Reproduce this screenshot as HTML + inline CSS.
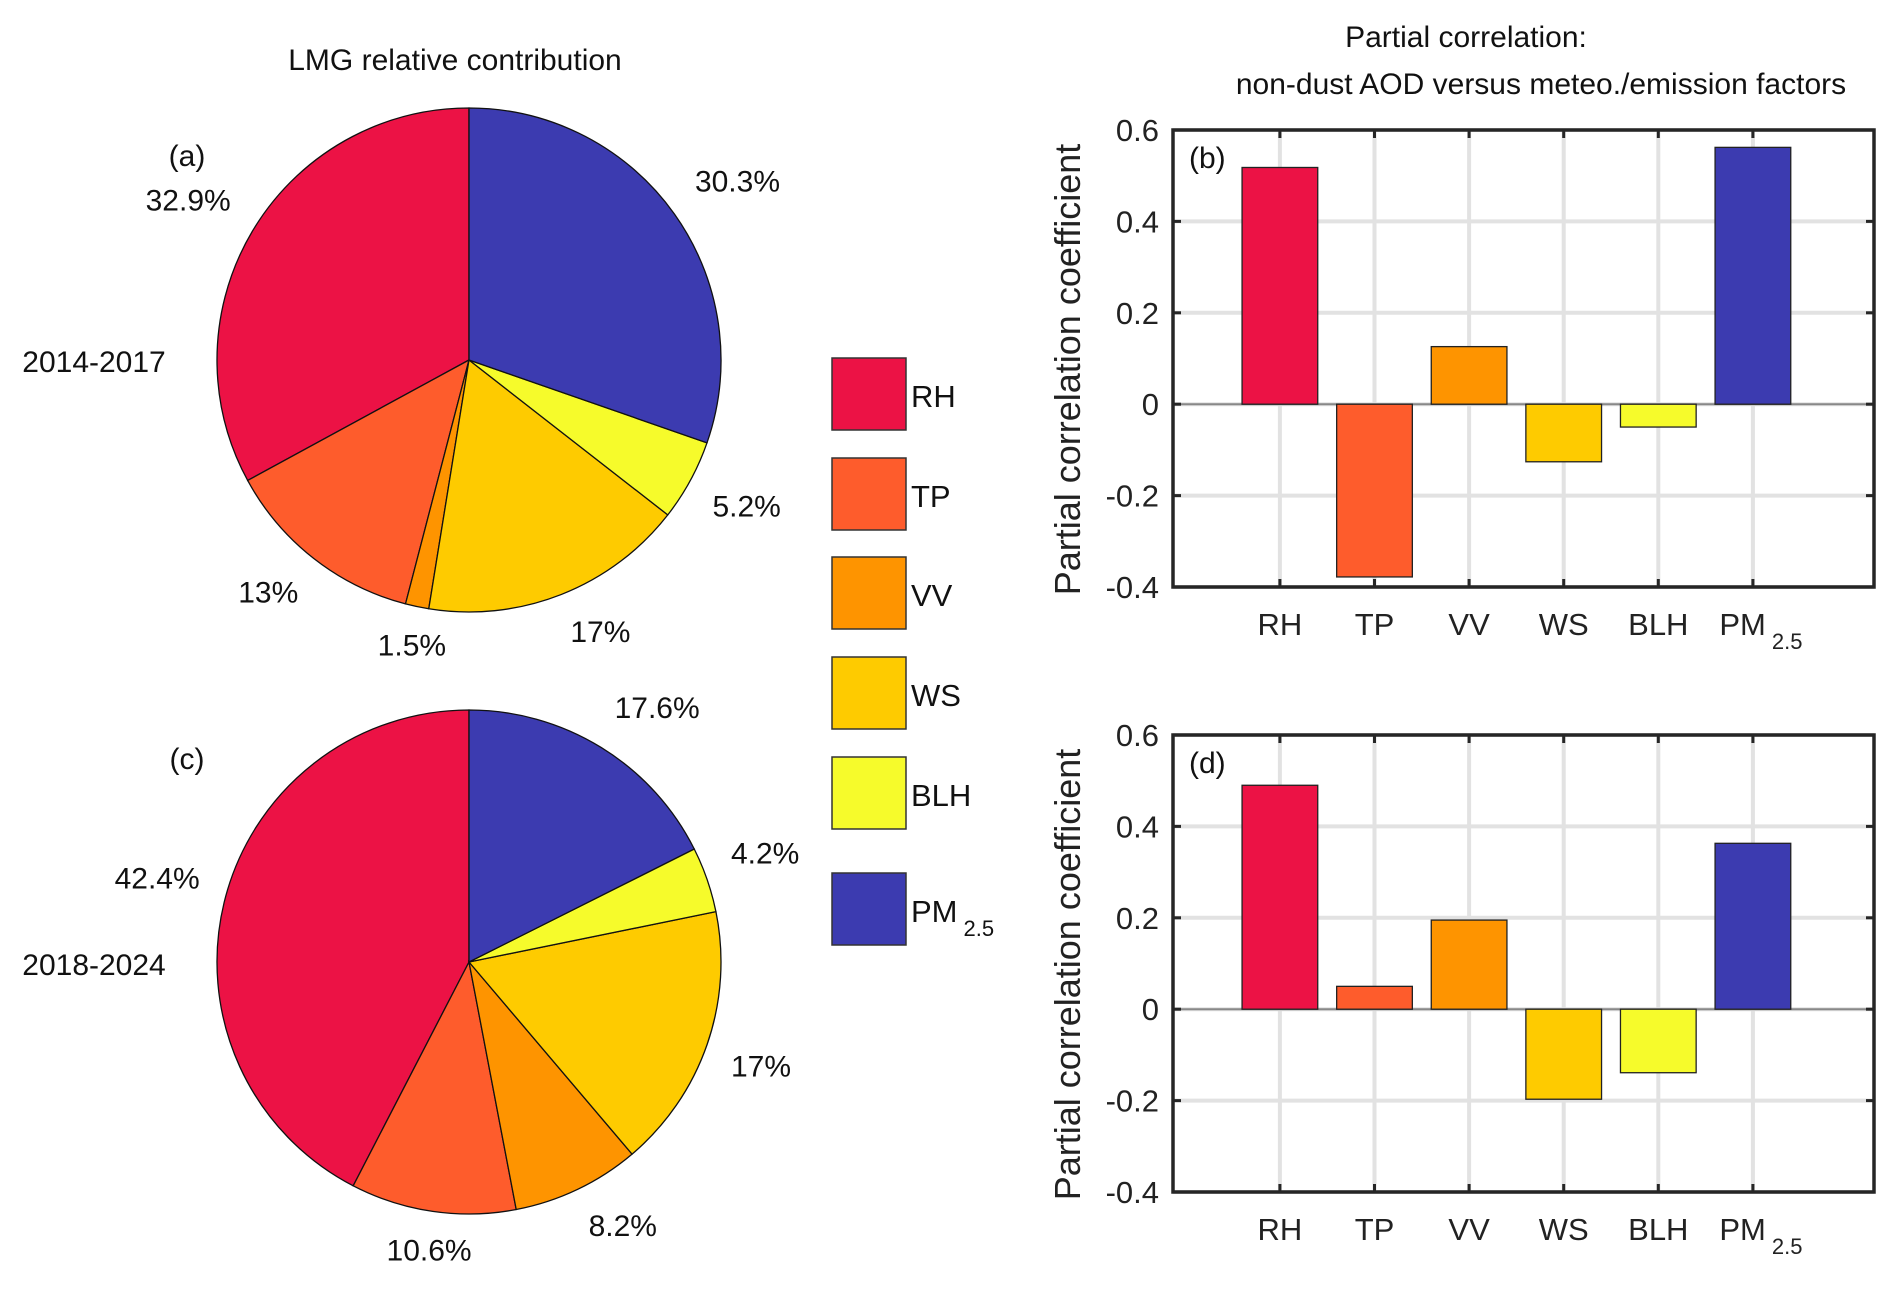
<!DOCTYPE html>
<html><head><meta charset="utf-8"><style>
body{margin:0;background:#fff;}
svg{display:block;font-family:"Liberation Sans",sans-serif;}
</style></head><body>
<svg id="fig" width="1892" height="1291" viewBox="0 0 1892 1291">
<text x="455" y="70" font-size="30" text-anchor="middle" fill="#111">LMG relative contribution</text>
<text x="1466" y="47" font-size="30" text-anchor="middle" fill="#111">Partial correlation:</text>
<text x="1541" y="94" font-size="30" text-anchor="middle" fill="#111">non-dust AOD versus meteo./emission factors</text>
<g id="pies"></g>
<g id="legend"></g>
<g id="bars"></g>
</svg>
<script>
const categories = ["RH","TP","VV","WS","BLH","PM"];
const colors = ["#ec1245","#fe5c2c","#fe9400","#fecb00","#f6fb2b","#3c3bb0"];
const pieA = [32.9, 13, 1.5, 17, 5.2, 30.3];
const pieC = [42.4, 10.6, 8.2, 17, 4.2, 17.6];
const pieALabels = ["32.9%","13%","1.5%","17%","5.2%","30.3%"];
const pieCLabels = ["42.4%","10.6%","8.2%","17%","4.2%","17.6%"];
const barsB = [0.518, -0.378, 0.126, -0.126, -0.05, 0.562];
const barsD = [0.49, 0.05, 0.195, -0.197, -0.139, 0.363];
const yTicks = [-0.4, -0.2, 0, 0.2, 0.4, 0.6];
const yTickLabels = ["-0.4","-0.2","0","0.2","0.4","0.6"];
const NS = "http://www.w3.org/2000/svg";
function mk(tag, attrs, parent){const e=document.createElementNS(NS,tag);for(const k in attrs)e.setAttribute(k,attrs[k]);parent.appendChild(e);return e;}

function drawPie(g, vals, labels, cx, cy, r, tag){
  const total = vals.reduce((a,b)=>a+b,0);
  let ang = Math.PI/2;
  vals.forEach((v,i)=>{
    const a0 = ang, a1 = ang + v/total*2*Math.PI;
    const x0=cx+r*Math.cos(a0), y0=cy-r*Math.sin(a0), x1=cx+r*Math.cos(a1), y1=cy-r*Math.sin(a1);
    const large = (a1-a0)>Math.PI?1:0;
    const p = mk('path',{d:`M${cx},${cy} L${x0},${y0} A${r},${r} 0 ${large} 0 ${x1},${y1} Z`,fill:colors[i],stroke:'#111','stroke-width':1.3},g);
    
    
    const am=(a0+a1)/2, lr=r*1.1;
    const lx=cx+lr*Math.cos(am), ly=cy-lr*Math.sin(am);
    const t = mk('text',{x:lx,y:ly+(Math.sin(am)>0?-8:24),'font-size':30,fill:'#111','text-anchor':Math.cos(am)<-0.3?'end':(Math.cos(am)>0.3?'start':'middle')},g);
    t.textContent = labels[i];
    
    
    ang = a1;
  });
}
const pies = document.getElementById('pies');
drawPie(pies, pieA, pieALabels, 469, 360, 252, 'a');
drawPie(pies, pieC, pieCLabels, 469, 962, 252, 'c');
[["(a)",187,166,"panel-label-a"],["(c)",187,769,"panel-label-c"],["2014-2017",94,372,"period-label-2014-2017"],["2018-2024",94,975,"period-label-2018-2024"]].forEach(d=>{
  const t=mk('text',{x:d[1],y:d[2],'font-size':30,'text-anchor':'middle',fill:'#111'},pies);
  t.textContent=d[0];
  
  
});

const leg=document.getElementById('legend');
const legY=[358,458,557,657,757,873];
categories.forEach((c,i)=>{
  const r=mk('rect',{x:832,y:legY[i],width:74,height:72,fill:colors[i],stroke:'#333','stroke-width':1.5},leg);
  
  
  const t=mk('text',{x:911,y:legY[i]+49,'font-size':31,fill:'#111'},leg);
  
  
  if(c==="PM"){t.innerHTML='PM<tspan font-size="22" dy="14" dx="6">2.5</tspan>';}else t.textContent=c;
});

function drawBars(g, vals, top, tag){
  const left=1173, right=1874, h=457, bottom=top+h;
  const ymin=-0.4, ymax=0.6;
  const Y=v=>top+(ymax-v)/(ymax-ymin)*h;
  const xmin=-0.13, xmax=7.28;
  const X=i=>left+(i+1-xmin)/(xmax-xmin)*(right-left);
  const bw=0.8*(right-left)/(xmax-xmin);
  yTicks.forEach((v,k)=>{
    const l=mk('line',{x1:left,x2:right,y1:Y(v),y2:Y(v),stroke:'#e2e2e2','stroke-width':4},g);
    
    
    const t=mk('text',{x:left-14,y:Y(v)+11,'font-size':31,'text-anchor':'end',fill:'#222'},g);
    t.textContent=yTickLabels[k];
    
    
  });
  categories.forEach((c,i)=>{
    const l=mk('line',{x1:X(i),x2:X(i),y1:top,y2:bottom,stroke:'#e2e2e2','stroke-width':4},g);
    
    
  });
  const z=mk('line',{x1:left,x2:right,y1:Y(0),y2:Y(0),stroke:'#888','stroke-width':2},g);
  
  
  vals.forEach((v,i)=>{
    const c=categories[i];
    const y0=Math.min(Y(v),Y(0)), hh=Math.abs(Y(v)-Y(0));
    const r=mk('rect',{x:X(i)-bw/2,y:y0,width:bw,height:hh,fill:colors[i],stroke:'#222','stroke-width':1.3},g);
    
    
    const t=mk('text',{x:X(i),y:bottom+48,'font-size':31,'text-anchor':'middle',fill:'#222'},g);
    
    
    if(c==="PM"){t.setAttribute('x',X(i)+8);t.innerHTML='PM<tspan font-size="22" dy="14" dx="6">2.5</tspan>';}else t.textContent=c;
    mk('line',{x1:X(i),x2:X(i),y1:top,y2:top+8,stroke:'#262626','stroke-width':3},g);
    mk('line',{x1:X(i),x2:X(i),y1:bottom,y2:bottom-8,stroke:'#262626','stroke-width':3},g);
  });
  yTicks.forEach(v=>{
    mk('line',{x1:left,x2:left+8,y1:Y(v),y2:Y(v),stroke:'#262626','stroke-width':3},g);
    mk('line',{x1:right,x2:right-8,y1:Y(v),y2:Y(v),stroke:'#262626','stroke-width':3},g);
  });
  const box=mk('rect',{x:left,y:top,width:right-left,height:h,fill:'none',stroke:'#262626','stroke-width':3.5},g);
  
  
  const lab=mk('text',{x:left+16,y:top+38,'font-size':30,fill:'#111'},g);
  lab.textContent='('+tag+')';
  
  
  const cy=top+h/2+11;
  const yt=mk('text',{x:1080,y:cy,'font-size':36,'text-anchor':'middle',fill:'#222',transform:`rotate(-90 1080 ${cy})`},g);
  yt.textContent='Partial correlation coefficient';
  
  
}
const bars=document.getElementById('bars');
drawBars(bars, barsB, 130, 'b');
drawBars(bars, barsD, 735, 'd');
</script>
</body></html>
